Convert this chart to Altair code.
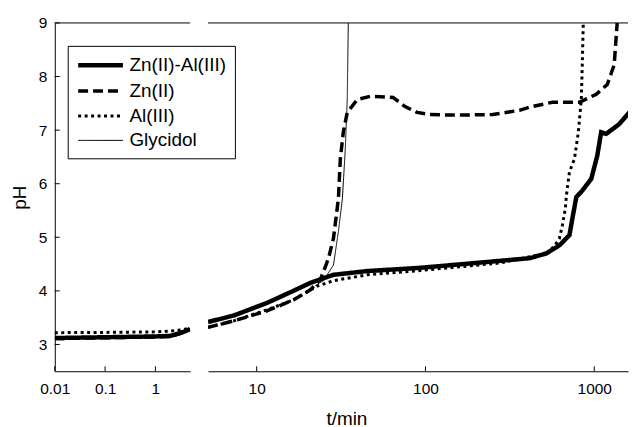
import altair as alt
import pandas as pd

FONT = "Liberation Sans"
series_names = ["Zn(II)-Al(III)", "Zn(II)", "Al(III)", "Glycidol"]

# ---- early-time panel (0.01 .. ~5 min) ----
left_t = [0.01, 0.1, 1, 2.0, 3.0, 4.0, 4.9]
zn_al_left_pH = [3.12, 3.135, 3.15, 3.16, 3.21, 3.25, 3.29]
zn_left_pH = [3.11, 3.125, 3.14, 3.15, 3.2, 3.24, 3.28]
al_left_pH = [3.22, 3.225, 3.235, 3.25, 3.27, 3.29, 3.31]

# ---- late-time panel (~5 .. 1600 min) ----
zn_al_t = [5.15, 7.32, 11.6, 16.5, 20.8, 28.5, 45.2, 92.9, 275, 414, 521, 622,
           713, 742, 783, 849, 960, 1042, 1099, 1177, 1404, 1675]
zn_al_pH = [3.42, 3.54, 3.78, 4.0, 4.15, 4.3, 4.37, 4.43, 4.56, 4.61, 4.70, 4.85,
            5.04, 5.35, 5.75, 5.87, 6.09, 6.52, 6.96, 6.93, 7.11, 7.39]

zn_t = [5.15, 7.32, 11.6, 16.5, 20.8, 23.9, 26.6, 28.5, 30.5, 31.3, 32.6, 34.4,
        39.4, 47.1, 64.3, 75.7, 89.1, 106, 150, 250, 361, 414, 565, 816, 1028,
        1194, 1313, 1367]
zn_pH = [3.32, 3.44, 3.63, 3.83, 4.02, 4.22, 4.6, 4.98, 5.72, 6.46, 6.96, 7.33,
         7.57, 7.63, 7.61, 7.44, 7.33, 7.29, 7.28, 7.29, 7.37, 7.43, 7.52, 7.52,
         7.67, 7.85, 8.22, 9.0]

al_t = [5.15, 7.32, 11.6, 16.5, 22.9, 28.5, 45.2, 92.9, 275, 521, 580, 622, 647,
        674, 684, 713, 763, 805, 838, 849, 861]
al_pH = [3.32, 3.44, 3.65, 3.83, 4.09, 4.19, 4.30, 4.38, 4.52, 4.70, 4.83, 4.98,
         5.22, 5.54, 5.78, 6.22, 6.46, 6.96, 7.57, 8.19, 9.0]

gly_t = [22.3, 24.8, 28.5, 30.5, 32.2, 33.5, 34.4, 34.9]
gly_pH = [4.1, 4.19, 4.48, 5.11, 5.72, 6.65, 7.57, 9.0]

x_ticks_left = [0.01, 0.1, 1]
x_ticks_right = [10, 100, 1000]
y_ticks = [3, 4, 5, 6, 7, 8, 9]

rows = []
def add(panel, name, ts, phs):
    for t, p in zip(ts, phs):
        rows.append({"panel": panel, "series": name, "t": t, "pH": p})

add("left", "Zn(II)", left_t, zn_left_pH)
add("left", "Al(III)", left_t, al_left_pH)
add("left", "Zn(II)-Al(III)", left_t, zn_al_left_pH)
add("right", "Glycidol", gly_t, gly_pH)
add("right", "Zn(II)", zn_t, zn_pH)
add("right", "Al(III)", al_t, al_pH)
add("right", "Zn(II)-Al(III)", zn_al_t, zn_al_pH)
df = pd.DataFrame(rows)
df_left = df[df.panel == "left"]
df_right = df[df.panel == "right"]

H = 350
WL = 136
WR = 422

dash_scale = alt.Scale(domain=series_names, range=[[1, 0], [10, 5], [3, 3.5], [1, 0]])
width_scale = alt.Scale(type="ordinal", domain=series_names, range=[4.5, 3.5, 3, 1])
y_scale = alt.Scale(domain=[2.5, 9], nice=False, zero=False)
left_x = alt.Scale(type="log", domain=[0.01, 4.9], nice=False)
right_x = alt.Scale(type="log", domain=[5.15, 1585], nice=False)

legend = alt.Legend(title=None, orient="none", legendX=13, legendY=23,
                    fillColor="white", strokeColor="black", padding=8,
                    labelFontSize=19, labelFont=FONT, labelColor="black",
                    symbolType="M-1,0H4", symbolSize=324,
                    symbolStrokeColor="black", symbolFillColor="transparent",
                    rowPadding=4.5, labelOffset=31)

y_axis = alt.Axis(values=y_ticks, tickSize=0, labelPadding=8, title="pH",
                  titlePadding=9, grid=False)
xl_axis = alt.Axis(values=x_ticks_left, format="~g", tickSize=0, labelPadding=10,
                   title=None, grid=False, labelFlush=False)
xr_axis = alt.Axis(values=x_ticks_right, format="~g", tickSize=0, labelPadding=10,
                   title="t/min", titleX=139, titleY=53, titleAlign="center",
                   titleBaseline="alphabetic", grid=False, labelFlush=False)


def lines(data, xscale, xaxis, yaxis):
    return alt.Chart(data).mark_line(color="black", clip=True).encode(
        x=alt.X("t:Q", scale=xscale, axis=xaxis),
        y=alt.Y("pH:Q", scale=y_scale, axis=yaxis),
        strokeDash=alt.StrokeDash("series:N", scale=dash_scale, legend=legend),
        strokeWidth=alt.StrokeWidth("series:N", scale=width_scale, legend=legend),
    )


top_df = pd.DataFrame({"pH": [9]})

left_lines = lines(df_left, left_x, xl_axis, y_axis)
left_xt = alt.Chart(pd.DataFrame({"t": x_ticks_left})).mark_rule(color="black").encode(
    x=alt.X("t:Q", scale=left_x, axis=xl_axis), y=alt.value(H), y2=alt.value(H - 5))
left_yt = alt.Chart(pd.DataFrame({"pH": y_ticks})).mark_rule(color="black").encode(
    y=alt.Y("pH:Q", scale=y_scale, axis=y_axis), x=alt.value(0), x2=alt.value(5))
left_top = alt.Chart(top_df).mark_rule(color="black", strokeWidth=1).encode(
    y=alt.Y("pH:Q", scale=y_scale, axis=y_axis))
left = alt.layer(left_lines, left_xt, left_yt, left_top).properties(width=WL, height=H)

right_lines = lines(df_right, right_x, xr_axis, None)
right_xt = alt.Chart(pd.DataFrame({"t": x_ticks_right})).mark_rule(color="black").encode(
    x=alt.X("t:Q", scale=right_x, axis=xr_axis), y=alt.value(H), y2=alt.value(H - 5))
right_top = alt.Chart(top_df).mark_rule(color="black", strokeWidth=1).encode(
    y=alt.Y("pH:Q", scale=y_scale, axis=None))
right = alt.layer(right_lines, right_xt, right_top).properties(width=WR, height=H)

chart = alt.hconcat(left, right, spacing=16).properties(
    padding={"left": 2, "top": 7, "right": 0, "bottom": 0},
    background="white"
).configure_view(stroke=None).configure_axis(
    domainColor="black", domainWidth=1, labelColor="black", labelFont=FONT,
    labelFontSize=15.5, titleFont=FONT, titleFontSize=19, titleFontWeight="normal",
    titleColor="black"
)

chart.save("out.html", embed_options={"renderer": "svg", "actions": False})
